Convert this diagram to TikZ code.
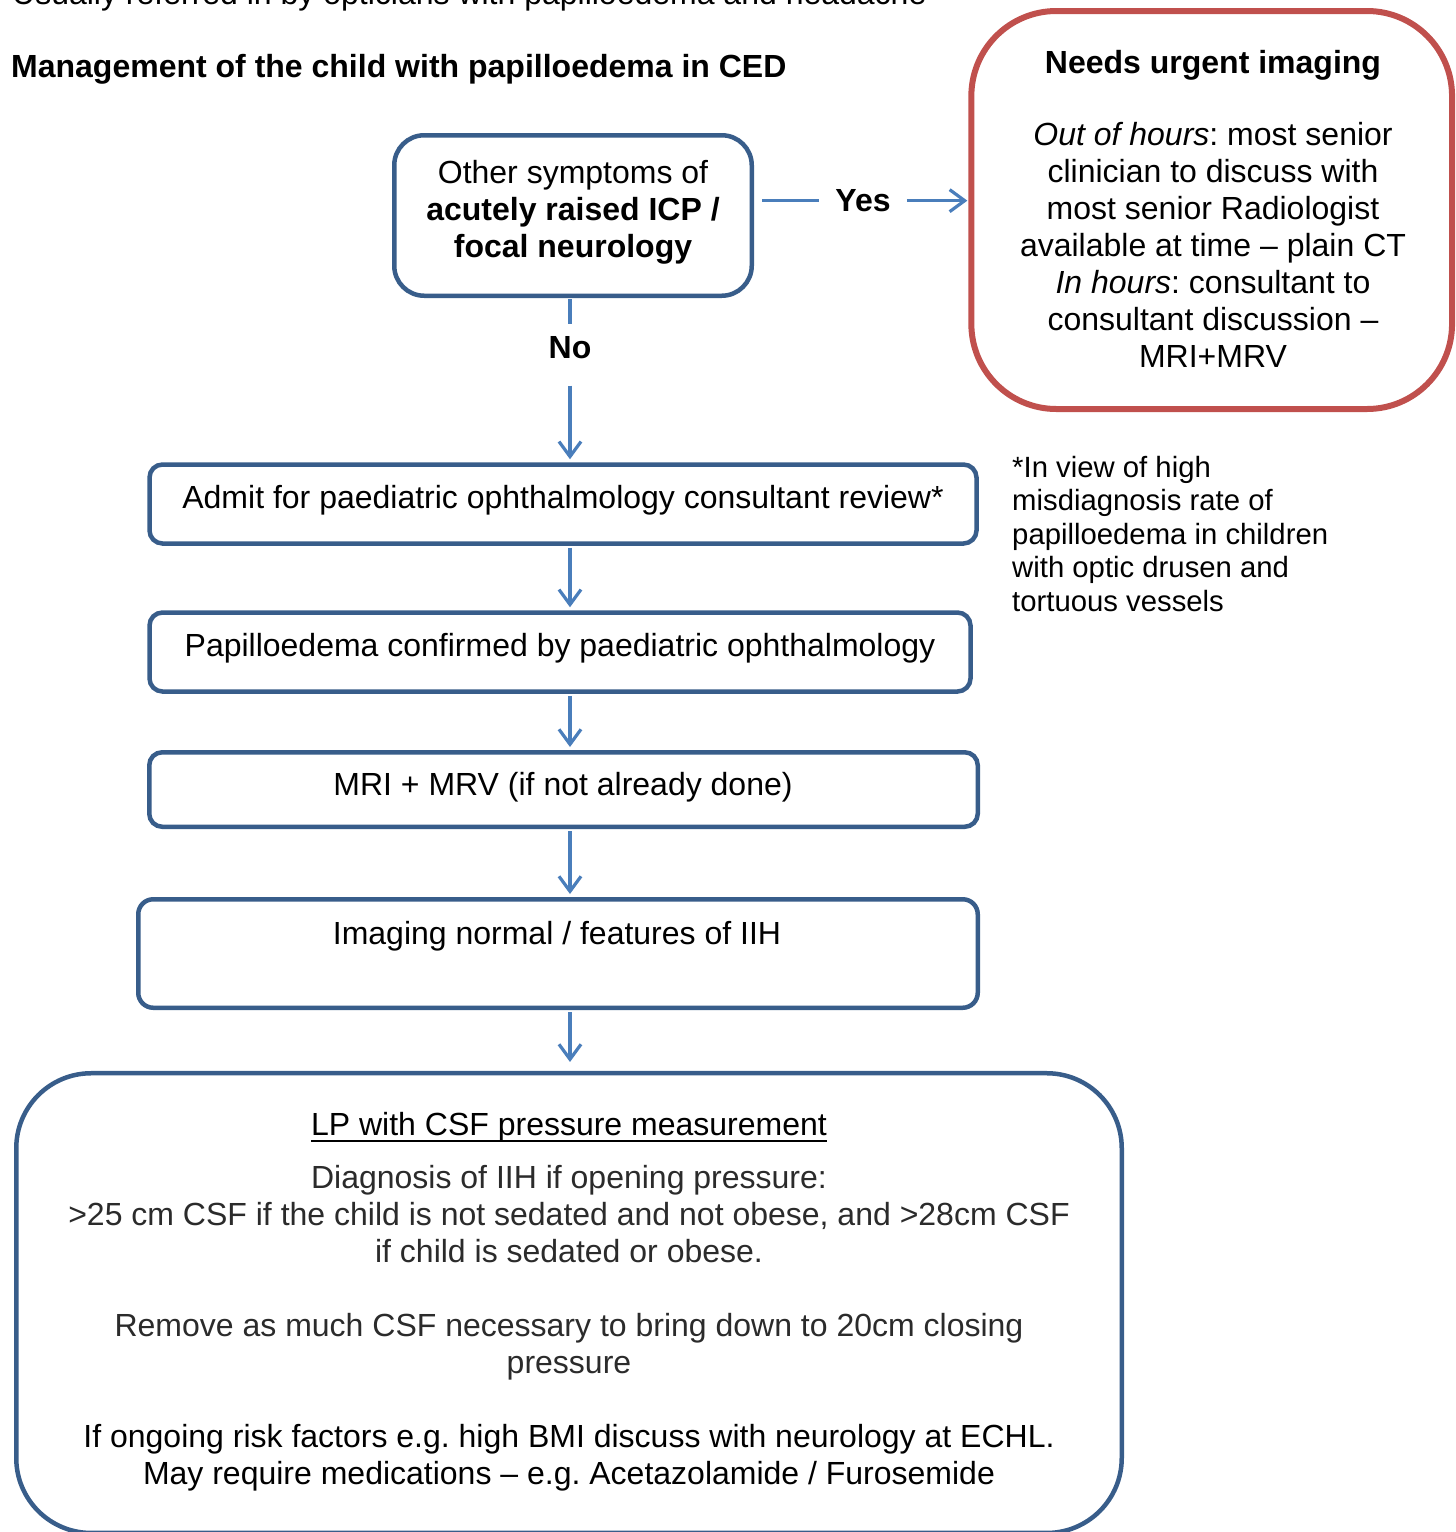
\documentclass[tikz,border=0pt]{standalone}
\usepackage{fontspec}
\setmainfont{Liberation Sans}
\usetikzlibrary{arrows.meta}
\definecolor{boxblue}{HTML}{385D8A}
\definecolor{arrblue}{HTML}{4A7EBB}
\definecolor{boxred}{HTML}{C0504D}
\definecolor{darktext}{HTML}{2B2B2B}
\newcommand{\mainsize}{\fontsize{32}{37}\selectfont}
\newcommand{\notesize}{\fontsize{29.3}{33.5}\selectfont}
\newcommand{\myul}[1]{\setbox0\hbox{#1}\rlap{\raisebox{-6.5pt}{\rule{\wd0}{2.6pt}}}\box0}
\frenchspacing
\tikzset{
  flowbox/.style={draw=boxblue, line width=4.5pt, rectangle, fill=white, inner sep=0pt},
  redbox/.style={draw=boxred, line width=6pt, rectangle, rounded corners=85pt, inner sep=0pt},
  boxtext/.style={font=\mainsize, align=center, inner sep=0pt, anchor=north},
  lbl/.style={font=\mainsize\bfseries, inner ysep=12pt, inner xsep=16pt},
  conn/.style={draw=arrblue, line width=3.2pt},
  arr/.style={conn, -{Straight Barb[length=15pt,width=22pt]}},
}
\begin{document}
\begin{tikzpicture}[x=1pt,y=-1pt]
\useasboundingbox (0,0) rectangle (1456,1532);
% header texts
\node[font=\mainsize, anchor=base west, inner sep=0pt] (cut) at (12,4) {Usually referred in by opticians with papilloedema and headache};
\node[font=\mainsize\bfseries, anchor=base west, inner sep=0pt] (title) at (11,77.5) {Management of the child with papilloedema in CED};
% boxes
\node[flowbox, rounded corners=30pt, minimum width=357.5pt, minimum height=160.5pt] (top) at (573,215.5) {};
\node[redbox, minimum width=480.7pt, minimum height=398pt] (red) at (1211.7,210) {};
\node[flowbox, rounded corners=13pt, minimum width=827pt, minimum height=79pt] (admit) at (563,504) {};
\node[flowbox, rounded corners=13pt, minimum width=821pt, minimum height=79pt] (pap) at (560,652) {};
\node[flowbox, rounded corners=13pt, minimum width=828.5pt, minimum height=74.5pt] (mri) at (563.5,789.5) {};
\node[flowbox, rounded corners=15pt, minimum width=839.5pt, minimum height=108.5pt] (img) at (558,953.5) {};
\node[flowbox, rounded corners=75pt, minimum width=1105.5pt, minimum height=459.75pt] (lp) at (569,1303.1) {};
% box texts
\node[boxtext] (toptext) at (573,157.6) {\strut Other symptoms of\\\bfseries acutely raised ICP /\\\bfseries focal neurology};
\node[boxtext] (redtext) at (1213,47.6) {\strut\bfseries Needs urgent imaging\\[35pt]
\textit{Out of hours}: most senior\\clinician to discuss with\\most senior Radiologist\\available at time -- plain CT\\\textit{In hours}: consultant to\\consultant discussion --\\MRI+MRV};
\node[boxtext] (admittext) at (563,482.6) {\strut Admit for paediatric ophthalmology consultant review*};
\node[boxtext] (paptext) at (560,630.6) {\strut Papilloedema confirmed by paediatric ophthalmology};
\node[boxtext] (mritext) at (563,769.6) {\strut MRI + MRV (if not already done)};
\node[boxtext] (imgtext) at (557,918.6) {\strut Imaging normal / features of IIH};
\node[boxtext] (lptext) at (569,1109.6) {\strut\myul{LP with CSF pressure measurement}\\[16pt]
\color{darktext}Diagnosis of IIH if opening pressure:\\
\color{darktext}>25 cm CSF if the child is not sedated and not obese, and >28cm CSF\\
\color{darktext}if child is sedated or obese.\\[37pt]
\color{darktext}Remove as much CSF necessary to bring down to 20cm closing\\
\color{darktext}pressure\\[37pt]
If ongoing risk factors e.g. high BMI discuss with neurology at ECHL.\\
May require medications -- e.g. Acetazolamide / Furosemide};
% footnote
\node[font=\notesize, align=left, inner sep=0pt, anchor=north west] (note) at (1012,453.5) {\strut *In view of high\\misdiagnosis rate of\\papilloedema in children\\with optic drusen and\\tortuous vessels};
% labels
\node[lbl, anchor=base] (yes) at (863,211.5) {Yes};
\node[lbl, anchor=base] (no) at (570,358.5) {No};
\coordinate (ax) at (570,0);
% connectors
\draw[conn, shorten <=8pt] (yes.west -| top.east) -- (yes.west);
\draw[arr, shorten >=1pt] (yes.east) -- (yes.east -| red.west);
\draw[conn, shorten <=1pt] (no.north |- top.south) -- (no.north);
\draw[arr, shorten <=14.5pt, shorten >=3pt] (no.south) -- (no.south |- admit.north);
\draw[arr, shorten <=2pt, shorten >=3pt] (admit.south -| ax) -- (pap.north -| ax);
\draw[arr, shorten <=2pt, shorten >=3pt] (pap.south -| ax) -- (mri.north -| ax);
\draw[arr, shorten <=2pt, shorten >=3pt] (mri.south -| ax) -- (img.north -| ax);
\draw[arr, shorten <=2pt, shorten >=9pt] (img.south -| ax) -- (lp.north -| ax);
\end{tikzpicture}
\end{document}
